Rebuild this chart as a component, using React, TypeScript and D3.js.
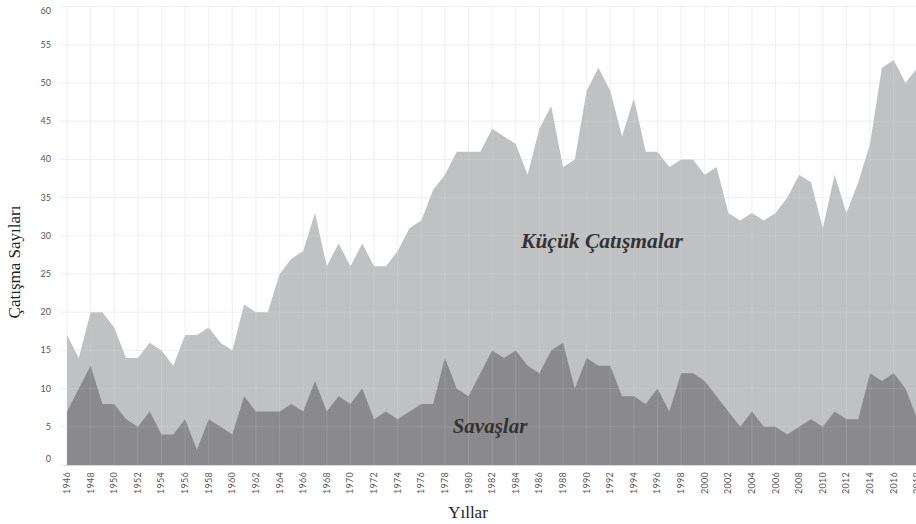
import React, { useEffect, useRef } from 'react';
import * as d3 from 'd3';

// Yearly counts, 1946-2018 (total conflicts and wars)
const startYear = 1946;
const totalConflicts = [
  17, 14, 20, 20, 18, 14, 14, 16, 15, 13,
  17, 17, 18, 16, 15, 21, 20, 20, 25, 27,
  28, 33, 26, 29, 26, 29, 26, 26, 28, 31,
  32, 36, 38, 41, 41, 41, 44, 43, 42, 38,
  44, 47, 39, 40, 49, 52, 49, 43, 48, 41,
  41, 39, 40, 40, 38, 39, 33, 32, 33, 32,
  33, 35, 38, 37, 31, 38, 33, 37, 42, 52,
  53, 50, 52
];
const wars = [
  7, 10, 13, 8, 8, 6, 5, 7, 4, 4,
  6, 2, 6, 5, 4, 9, 7, 7, 7, 8,
  7, 11, 7, 9, 8, 10, 6, 7, 6, 7,
  8, 8, 14, 10, 9, 12, 15, 14, 15, 13,
  12, 15, 16, 10, 14, 13, 13, 9, 9, 8,
  10, 7, 12, 12, 11, 9, 7, 5, 7, 5,
  5, 4, 5, 6, 5, 7, 6, 6, 12, 11,
  12, 10, 6
];
const years = totalConflicts.map((_, i) => startYear + i);
const yTicks = [0, 5, 10, 15, 20, 25, 30, 35, 40, 45, 50, 55, 60];
const xTicks = d3.range(1946, 2020, 2);

const width = 916;
const height = 524;

export default function App() {
  const svgRef = useRef<SVGSVGElement>(null);

  useEffect(() => {
    if (!svgRef.current) return;
    const svg = d3.select(svgRef.current);
    svg.selectAll('*').remove();

    const x = d3.scaleLinear().domain([1946, 2018]).range([67, 917.3]);
    const y = d3.scaleLinear().domain([0, 60]).range([465, 6.6]);

    const g = svg.append('g');

    // grid under the areas
    g.selectAll('.hgrid')
      .data(yTicks)
      .enter()
      .append('line')
      .attr('x1', 60)
      .attr('x2', width)
      .attr('y1', d => y(d))
      .attr('y2', d => y(d))
      .attr('stroke', '#eceef4')
      .attr('stroke-width', 1);

    g.selectAll('.vgrid')
      .data(xTicks)
      .enter()
      .append('line')
      .attr('x1', d => x(d))
      .attr('x2', d => x(d))
      .attr('y1', y(60))
      .attr('y2', y(0))
      .attr('stroke', '#eceef4')
      .attr('stroke-width', 1);

    const rows = years.map((yr, i) => ({ year: yr, total: totalConflicts[i], war: wars[i] }));

    const totalArea = d3.area<typeof rows[0]>()
      .x(d => x(d.year))
      .y0(y(0))
      .y1(d => y(d.total));

    const warArea = d3.area<typeof rows[0]>()
      .x(d => x(d.year))
      .y0(y(0))
      .y1(d => y(d.war));

    g.append('path').datum(rows).attr('d', totalArea).attr('fill', '#c0c1c3');
    g.append('path').datum(rows).attr('d', warArea).attr('fill', '#8a8a8c');

    // faint grid showing through the areas
    const overlay = g.append('g').attr('stroke', '#fff').attr('stroke-opacity', 0.12);
    overlay.selectAll('line.h')
      .data(yTicks.filter(d => d > 0))
      .enter()
      .append('line')
      .attr('x1', 64)
      .attr('x2', width)
      .attr('y1', d => y(d))
      .attr('y2', d => y(d));
    overlay.selectAll('line.v')
      .data(xTicks)
      .enter()
      .append('line')
      .attr('x1', d => x(d))
      .attr('x2', d => x(d))
      .attr('y1', y(60))
      .attr('y2', y(0));

    // baseline
    g.append('line')
      .attr('x1', 64)
      .attr('x2', width)
      .attr('y1', y(0) + 0.5)
      .attr('y2', y(0) + 0.5)
      .attr('stroke', '#d8d8da');

    // y tick labels
    g.selectAll('.ylab')
      .data(yTicks)
      .enter()
      .append('text')
      .attr('x', 51)
      .attr('y', d => (d === 0 ? y(0) - 3 : d === 60 ? y(60) + 7 : y(d) + 3))
      .attr('text-anchor', 'end')
      .style('font-family', 'Lato, sans-serif')
      .style('font-size', '9px')
      .style('fill', '#555')
      .text(d => d);

    // x tick labels
    g.selectAll('.xlab')
      .data(xTicks)
      .enter()
      .append('text')
      .attr('transform', d => `translate(${x(d) + 3},${y(0) + 7}) rotate(-90)`)
      .attr('text-anchor', 'end')
      .style('font-family', 'Lato, sans-serif')
      .style('font-size', '9px')
      .style('letter-spacing', '0.3px')
      .style('fill', '#555')
      .text(d => d);

    // area labels
    g.append('text')
      .attr('x', 602)
      .attr('y', 248)
      .attr('text-anchor', 'middle')
      .style('font-family', '"Liberation Serif", serif')
      .style('font-style', 'italic')
      .style('font-weight', 'bold')
      .style('font-size', '21.5px')
      .style('fill', '#333')
      .text('Küçük Çatışmalar');

    g.append('text')
      .attr('x', 490)
      .attr('y', 433)
      .attr('text-anchor', 'middle')
      .style('font-family', '"Liberation Serif", serif')
      .style('font-style', 'italic')
      .style('font-weight', 'bold')
      .style('font-size', '21px')
      .style('fill', '#333')
      .text('Savaşlar');

    // axis titles
    g.append('text')
      .attr('transform', 'translate(20,262) rotate(-90)')
      .attr('text-anchor', 'middle')
      .style('font-family', '"Liberation Serif", serif')
      .style('font-size', '17px')
      .style('fill', '#222')
      .text('Çatışma Sayıları');

    g.append('text')
      .attr('x', 468)
      .attr('y', 518)
      .attr('text-anchor', 'middle')
      .style('font-family', '"Liberation Serif", serif')
      .style('font-size', '17px')
      .style('fill', '#222')
      .text('Yıllar');
  }, []);

  return (
    <div style={{ position: 'absolute', left: 0, top: 0, background: '#fff' }}>
      <svg ref={svgRef} width={width} height={height} style={{ display: 'block' }} />
    </div>
  );
}
